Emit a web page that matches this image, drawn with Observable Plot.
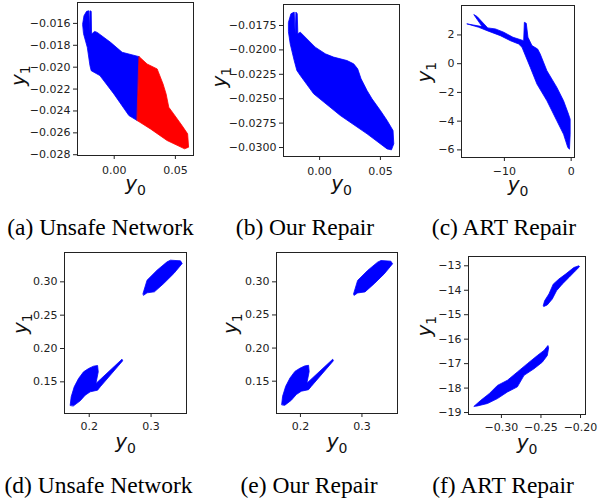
<!DOCTYPE html>
<html><head><meta charset="utf-8">
<script src="https://cdn.jsdelivr.net/npm/d3@7"></script>
<script src="https://cdn.jsdelivr.net/npm/@observablehq/plot@0.6"></script>
<style>
html,body{margin:0;padding:0;background:#fff;}
#root{position:relative;width:598px;height:501px;overflow:hidden;background:#fff;}
.panel{position:absolute;}
.panel svg{overflow:visible;}
.cap{position:absolute;font-family:"Liberation Serif","Times New Roman",serif;font-size:23.5px;line-height:23.5px;white-space:nowrap;transform:translateX(-50%);color:#000;}
</style></head><body><div id="root"></div>
<script>
// ---------- data ----------
const captions = ["(a) Unsafe Network","(b) Our Repair","(c) ART Repair","(d) Unsafe Network","(e) Our Repair","(f) ART Repair"];

// (a) Unsafe network: blue = safe part, red = unsafe part
const aBlue = [[-0.0258,-0.01606],[-0.0247,-0.0153],[-0.0226,-0.0149],[-0.0207,-0.01485],[-0.0204,-0.01682],[-0.0198,-0.01485],[-0.0188,-0.0149],[-0.0185,-0.01697],[-0.0160,-0.01673],[-0.0139,-0.01682],[-0.0030,-0.01773],[0.0065,-0.01864],[0.0204,-0.01904],[0.0188,-0.02488],[0.0120,-0.02442],[-0.0003,-0.02244],[-0.0117,-0.02077],[-0.0188,-0.02032],[-0.0198,-0.01986],[-0.0220,-0.01819],[-0.0250,-0.01697]];
const aRed = [[0.0204,-0.01904],[0.0269,-0.01971],[0.0351,-0.02016],[0.0399,-0.02153],[0.0424,-0.02244],[0.0446,-0.02366],[0.0486,-0.02427],[0.0554,-0.02533],[0.0600,-0.02609],[0.0608,-0.02731],[0.0575,-0.02746],[0.0432,-0.02670],[0.0296,-0.02564],[0.0188,-0.02488]];
const aXTicks = [0, 0.05];
const aYTicks = [-0.016,-0.018,-0.020,-0.022,-0.024,-0.026,-0.028];

// (b) Our repair
const bBlue = [[-0.0256,-0.01716],[-0.0236,-0.01630],[-0.0209,-0.01613],[-0.0201,-0.01835],[-0.0195,-0.01613],[-0.0184,-0.01630],[-0.0179,-0.01835],[-0.0159,-0.01818],[-0.0036,-0.01972],[0.0047,-0.02040],[0.0115,-0.02074],[0.0225,-0.02109],[0.0280,-0.02143],[0.0313,-0.02194],[0.0341,-0.02296],[0.0390,-0.02416],[0.0431,-0.02501],[0.0500,-0.02621],[0.0555,-0.02723],[0.0604,-0.02826],[0.0610,-0.02962],[0.0591,-0.03024],[0.0555,-0.03014],[0.0390,-0.02860],[0.0170,-0.02672],[-0.0049,-0.02450],[-0.0159,-0.02262],[-0.0187,-0.02211],[-0.0209,-0.02109],[-0.0242,-0.01938],[-0.0256,-0.01818]];
const bXTicks = [0, 0.05];
const bYTicks = [-0.0175,-0.0200,-0.0225,-0.0250,-0.0275,-0.0300];

// (c) ART repair
const cBlue = [[-15.57,2.77],[-13.33,2.58],[-14.58,3.42],[-14.08,3.28],[-12.49,2.49],[-11.34,2.42],[-10.10,2.19],[-8.71,1.84],[-7.11,1.60],[-7.01,2.88],[-6.72,2.81],[-6.47,1.84],[-5.87,1.26],[-5.02,1.02],[-4.63,0.67],[-3.63,-0.49],[-2.14,-1.65],[-1.14,-2.58],[-0.40,-3.51],[-0.15,-3.86],[-0.15,-4.91],[-0.25,-5.95],[-0.50,-5.84],[-1.14,-4.91],[-2.14,-3.98],[-3.63,-2.58],[-5.12,-1.42],[-6.12,-0.26],[-7.36,1.14],[-7.86,1.37],[-9.10,1.60],[-10.60,1.95],[-12.59,2.30],[-13.83,2.53]];
const cXTicks = [-10, 0];
const cYTicks = [2, 0, -2, -4, -6];

// (d) Unsafe network (second example)
const dUpper = [[0.2870,0.2825],[0.2935,0.3025],[0.3097,0.3175],[0.3259,0.3300],[0.3314,0.3325],[0.3476,0.3315],[0.3503,0.3275],[0.3368,0.3125],[0.3205,0.2975],[0.3054,0.2850],[0.2935,0.2835],[0.2881,0.2800]];
const dLower = [[0.1692,0.1150],[0.1708,0.1275],[0.1757,0.1425],[0.1827,0.1550],[0.1908,0.1650],[0.1989,0.1700],[0.2070,0.1735],[0.2135,0.1745],[0.2146,0.1650],[0.2108,0.1475],[0.2530,0.1840],[0.2541,0.1815],[0.2178,0.1425],[0.2135,0.1375],[0.2016,0.1350],[0.1935,0.1300],[0.1854,0.1215],[0.1746,0.1140]];
const dXTicks = [0.2, 0.3];
const dYTicks = [0.15, 0.20, 0.25, 0.30];

// (e) Our repair (second example)
const eUpper = [[0.2865,0.2822],[0.2930,0.3022],[0.3092,0.3172],[0.3254,0.3297],[0.3310,0.3322],[0.3470,0.3312],[0.3498,0.3272],[0.3362,0.3120],[0.3200,0.2972],[0.3050,0.2848],[0.2930,0.2832],[0.2876,0.2798]];
const eLower = [[0.1695,0.1148],[0.1710,0.1272],[0.1760,0.1422],[0.1830,0.1548],[0.1910,0.1648],[0.1990,0.1695],[0.2068,0.1730],[0.2132,0.1740],[0.2142,0.1645],[0.2105,0.1470],[0.2525,0.1832],[0.2536,0.1808],[0.2175,0.1420],[0.2132,0.1372],[0.2014,0.1348],[0.1933,0.1298],[0.1852,0.1212],[0.1748,0.1138]];
const eXTicks = [0.2, 0.3];
const eYTicks = [0.15, 0.20, 0.25, 0.30];

// (f) ART repair (second example)
const fUpper = [[-0.2471,-14.63],[-0.2454,-14.43],[-0.2399,-14.15],[-0.2345,-13.75],[-0.2273,-13.54],[-0.2189,-13.34],[-0.2084,-13.07],[-0.2021,-13.00],[-0.2013,-13.04],[-0.2063,-13.20],[-0.2147,-13.48],[-0.2231,-13.75],[-0.2303,-14.02],[-0.2357,-14.36],[-0.2420,-14.60],[-0.2462,-14.66]];
const fLower = [[-0.3345,-18.74],[-0.3261,-18.50],[-0.3155,-18.23],[-0.3050,-17.89],[-0.2924,-17.68],[-0.2798,-17.34],[-0.2672,-17.00],[-0.2546,-16.67],[-0.2462,-16.46],[-0.2412,-16.26],[-0.2403,-16.35],[-0.2420,-16.67],[-0.2483,-16.94],[-0.2588,-17.21],[-0.2714,-17.48],[-0.2798,-17.95],[-0.2924,-18.16],[-0.3050,-18.43],[-0.3176,-18.63],[-0.3303,-18.73]];
const fXTicks = [-0.30, -0.25, -0.20];
const fYTicks = [-13, -14, -15, -16, -17, -18, -19];

// ---------- layout ----------
const BLUE = "#0000ff", RED = "#ff0000";
const panels = [
  {left:0,   top:0,   w:200, h:205, ml:77, mr:7,  mt:2,  mb:50, xd:[-0.0300,0.0648], yd:[-0.02807,-0.01409], xt:aXTicks, yt:aYTicks, xf:d3.format(".2f"), yf:d3.format(".3f"), shapes:[[aBlue,BLUE],[aRed,RED]], ylx:-59, yly:7, xly:34, tp:7},
  {left:200, top:0,   w:200, h:205, ml:83, mr:1,  mt:4,  mb:49, xd:[-0.0297,0.0657], yd:[-0.03092,-0.01535], xt:bXTicks, yt:bYTicks, xf:d3.format(".2f"), yf:d3.format(".4f"), shapes:[[bBlue,BLUE]], ylx:-64, yly:7, xly:33.5, tp:7},
  {left:400, top:0,   w:198, h:205, ml:61, mr:24, mt:5,  mb:48, xd:[-16.42,0.50], yd:[-6.53,4.05], xt:cXTicks, yt:cYTicks, xf:d3.format("d"), yf:d3.format("d"), shapes:[[cBlue,BLUE]], ylx:-37, yly:1, xly:33, tp:6},
  {left:0,   top:240, w:200, h:220, ml:64, mr:14, mt:12, mb:47, xd:[0.160,0.3573], yd:[0.1025,0.344], xt:dXTicks, yt:dYTicks, xf:d3.format(".1f"), yf:d3.format(".2f"), shapes:[[dUpper,BLUE],[dLower,BLUE]], ylx:-44, yly:1, xly:34.5, tp:5},
  {left:200, top:240, w:200, h:220, ml:76, mr:3,  mt:12, mb:47, xd:[0.1611,0.3578], yd:[0.1012,0.3443], xt:eXTicks, yt:eYTicks, xf:d3.format(".1f"), yf:d3.format(".2f"), shapes:[[eUpper,BLUE],[eLower,BLUE]], ylx:-46, yly:1, xly:34, tp:5},
  {left:400, top:240, w:198, h:220, ml:68, mr:13, mt:16, mb:46, xd:[-0.3416,-0.1937], yd:[-19.08,-12.62], xt:fXTicks, yt:fYTicks, xf:d3.format(".2f"), yf:d3.format("d"), shapes:[[fUpper,BLUE],[fLower,BLUE]], ylx:-44, yly:1, xly:34.5, tp:5}
];
const capPos = [[100.5,215.7],[305,215.7],[504,215.7],[98.5,473.7],[309,473.7],[503,473.7]];

const root = document.getElementById("root");

function subscriptLabels(svg){
  svg.querySelectorAll("g[aria-label='text'] text").forEach(t => {
    const s = t.textContent;
    if (s === "y0" || s === "y1") {
      t.textContent = "";
      const ns = "http://www.w3.org/2000/svg";
      const a = document.createElementNS(ns, "tspan");
      a.setAttribute("font-style", "italic");
      a.textContent = "y";
      const b = document.createElementNS(ns, "tspan");
      b.setAttribute("font-size", "14");
      b.setAttribute("dy", "5");
      b.textContent = s[1];
      t.appendChild(a); t.appendChild(b);
    }
  });
}

panels.forEach((p, i) => {
  const chart = Plot.plot({
    width: p.w, height: p.h,
    marginLeft: p.ml, marginRight: p.mr, marginTop: p.mt, marginBottom: p.mb,
    style: {fontFamily: "DejaVu Sans", fontSize: "11px", color: "#222", background: "transparent", overflow: "visible"},
    x: {domain: p.xd, ticks: p.xt, tickFormat: p.xf, tickSize: 4, tickPadding: p.tp, label: null},
    y: {domain: p.yd, ticks: p.yt, tickFormat: p.yf, tickSize: 4, tickPadding: 3, label: null},
    marks: [
      ...p.shapes.map(([pts, col]) => Plot.line(pts, {x: d => d[0], y: d => d[1], fill: col, stroke: col, strokeWidth: 0.8, curve: "linear-closed"})),
      Plot.frame({stroke: "#222", strokeWidth: 1}),
      Plot.text(["y0"], {text: d => d, frameAnchor: "bottom", dy: p.xly, fontSize: 20, fontFamily: "DejaVu Sans", fill: "#111"}),
      Plot.text(["y1"], {text: d => d, frameAnchor: "left", rotate: -90, dx: p.ylx, dy: p.yly, fontSize: 20, fontFamily: "DejaVu Sans", fill: "#111"})
    ]
  });
  subscriptLabels(chart);
  const div = document.createElement("div");
  div.className = "panel";
  div.style.left = p.left + "px";
  div.style.top = p.top + "px";
  div.appendChild(chart);
  root.appendChild(div);

  const cap = document.createElement("div");
  cap.className = "cap";
  cap.style.left = capPos[i][0] + "px";
  cap.style.top = capPos[i][1] + "px";
  cap.textContent = captions[i];
  root.appendChild(cap);
});
</script></body></html>
